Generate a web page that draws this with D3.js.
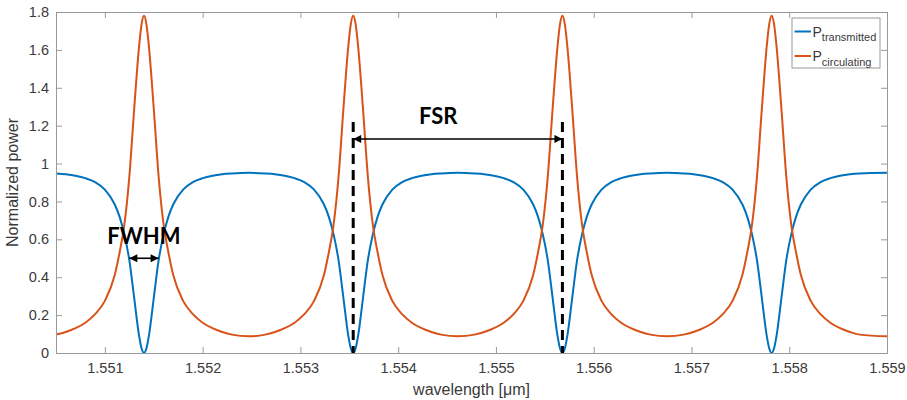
<!DOCTYPE html>
<html><head><meta charset="utf-8">
<script src="https://cdn.jsdelivr.net/npm/d3@7"></script>
<style>
html,body{margin:0;padding:0;background:#fff;}
svg{display:block;}
</style></head>
<body>
<svg id="chart" width="907" height="400"></svg>
<script>
// ---- data ----
const wavelength = [
  1.5505, 1.5506, 1.5507, 1.5508, 1.5509, 1.5510, 1.5511, 1.55115, 1.5512, 1.55125, 1.5513, 1.55135, 1.551375, 1.5514,
  1.551425, 1.55145, 1.5515, 1.55155, 1.5516, 1.55165, 1.5517, 1.5518, 1.5519, 1.5520, 1.5521, 1.5522, 1.5523, 1.55247,
  1.55264, 1.55274, 1.55284, 1.55294, 1.55304, 1.55314, 1.55324, 1.55329, 1.55334, 1.55339, 1.55344, 1.55349, 1.553515, 1.55354,
  1.553565, 1.55359, 1.55364, 1.55369, 1.55374, 1.55379, 1.55384, 1.55394, 1.55404, 1.55414, 1.55424, 1.55434, 1.55444, 1.55461,
  1.55478, 1.55488, 1.55498, 1.55508, 1.55518, 1.55528, 1.55538, 1.55543, 1.55548, 1.55553, 1.55558, 1.55563, 1.555655, 1.55568,
  1.555705, 1.55573, 1.55578, 1.55583, 1.55588, 1.55593, 1.55598, 1.55608, 1.55618, 1.55628, 1.55638, 1.55648, 1.55658, 1.55675,
  1.55692, 1.55702, 1.55712, 1.55722, 1.55732, 1.55742, 1.55752, 1.55757, 1.55762, 1.55767, 1.55772, 1.55777, 1.557795, 1.55782,
  1.557845, 1.55787, 1.55792, 1.55797, 1.55802, 1.55807, 1.55812, 1.55822, 1.55832, 1.55842, 1.55852, 1.55862, 1.55872, 1.5590
];
const transmitted = [
  0.948, 0.944, 0.936, 0.923, 0.902, 0.862, 0.785, 0.72, 0.625, 0.49, 0.29, 0.09, 0.025, 0,
  0.025, 0.09, 0.29, 0.49, 0.625, 0.72, 0.785, 0.862, 0.902, 0.923, 0.936, 0.944, 0.948, 0.951,
  0.948, 0.944, 0.936, 0.923, 0.902, 0.862, 0.785, 0.72, 0.625, 0.49, 0.29, 0.09, 0.025, 0,
  0.025, 0.09, 0.29, 0.49, 0.625, 0.72, 0.785, 0.862, 0.902, 0.923, 0.936, 0.944, 0.948, 0.951,
  0.948, 0.944, 0.936, 0.923, 0.902, 0.862, 0.785, 0.72, 0.625, 0.49, 0.29, 0.09, 0.025, 0,
  0.025, 0.09, 0.29, 0.49, 0.625, 0.72, 0.785, 0.862, 0.902, 0.923, 0.936, 0.944, 0.948, 0.951,
  0.948, 0.944, 0.936, 0.923, 0.902, 0.862, 0.785, 0.72, 0.625, 0.49, 0.29, 0.09, 0.025, 0,
  0.025, 0.09, 0.29, 0.49, 0.625, 0.72, 0.785, 0.862, 0.902, 0.923, 0.936, 0.944, 0.948, 0.951
];
const circulating = [
  0.097, 0.111, 0.131, 0.160, 0.205, 0.275, 0.41, 0.53, 0.68, 0.93, 1.29, 1.62, 1.735, 1.78,
  1.735, 1.62, 1.29, 0.93, 0.68, 0.53, 0.41, 0.275, 0.205, 0.160, 0.131, 0.111, 0.097, 0.088,
  0.097, 0.111, 0.131, 0.160, 0.205, 0.275, 0.41, 0.53, 0.68, 0.93, 1.29, 1.62, 1.735, 1.78,
  1.735, 1.62, 1.29, 0.93, 0.68, 0.53, 0.41, 0.275, 0.205, 0.160, 0.131, 0.111, 0.097, 0.088,
  0.097, 0.111, 0.131, 0.160, 0.205, 0.275, 0.41, 0.53, 0.68, 0.93, 1.29, 1.62, 1.735, 1.78,
  1.735, 1.62, 1.29, 0.93, 0.68, 0.53, 0.41, 0.275, 0.205, 0.160, 0.131, 0.111, 0.097, 0.088,
  0.097, 0.111, 0.131, 0.160, 0.205, 0.275, 0.41, 0.53, 0.68, 0.93, 1.29, 1.62, 1.735, 1.78,
  1.735, 1.62, 1.29, 0.93, 0.68, 0.53, 0.41, 0.275, 0.205, 0.160, 0.131, 0.111, 0.097, 0.088
];
const seriesNames = ["transmitted", "circulating"];
const xTicks = [1.551, 1.552, 1.553, 1.554, 1.555, 1.556, 1.557, 1.558, 1.559];
const yTicks = [0, 0.2, 0.4, 0.6, 0.8, 1, 1.2, 1.4, 1.6, 1.8];
const xDomain = [1.5505, 1.559];
const yDomain = [0, 1.8];
// annotations (data units)
const fsrMarks = [1.55354, 1.55568];   // dashed resonance lines
const fsrArrowY = 1.13;
const dashTop = 1.22;
const fsrLabel = {x: 1.55441, y: 1.21};
const fwhmRange = [1.55125, 1.55155];
const fwhmY = 0.5;
const fwhmLabel = {x: 1.551024, y: 0.578};

// ---- layout ----
const W = 907, H = 400;
const margin = {left: 56, right: 20, top: 12, bottom: 47};
const iw = W - margin.left - margin.right;
const ih = H - margin.top - margin.bottom;
const colors = ["#0072BD", "#D95319"];
const axisColor = "#9a9a9a";
const textColor = "#3a3a3a";

const svg = d3.select("#chart");
const g = svg.append("g").attr("transform", `translate(${margin.left},${margin.top})`);

const x = d3.scaleLinear().domain(xDomain).range([0, iw]);
const y = d3.scaleLinear().domain(yDomain).range([ih, 0]);

// defs: arrow heads
const defs = svg.append("defs");
defs.append("marker").attr("id", "ah").attr("viewBox", "0 0 10 10")
  .attr("refX", 10).attr("refY", 5).attr("markerWidth", 9).attr("markerHeight", 8)
  .attr("markerUnits", "userSpaceOnUse").attr("orient", "auto-start-reverse")
  .append("path").attr("d", "M0,0 L10,5 L0,10 Z").attr("fill", "#000");
defs.append("clipPath").attr("id", "clip").append("rect")
  .attr("x", 0).attr("y", -2).attr("width", iw).attr("height", ih + 4);

// curves
const lineGen = d3.line().curve(d3.curveMonotoneX)
  .x(d => x(d[0])).y(d => y(d[1]));
const seriesData = [transmitted, circulating];
seriesData.forEach((vals, i) => {
  g.append("path")
    .datum(wavelength.map((w, k) => [w, vals[k]]))
    .attr("d", lineGen)
    .attr("fill", "none")
    .attr("stroke", colors[i])
    .attr("stroke-width", 2)
    .attr("stroke-linejoin", "round")
    .attr("clip-path", "url(#clip)");
});

// axes
const tickLen = 6;
const xAxisB = d3.axisBottom(x).tickValues(xTicks).tickSize(-tickLen).tickPadding(10)
  .tickFormat(d3.format(".3f"));
const yAxisL = d3.axisLeft(y).tickValues(yTicks).tickSize(-tickLen).tickPadding(7)
  .tickFormat(d => d3.format("~g")(d));
const xAxisT = d3.axisTop(x).tickValues(xTicks).tickSize(-tickLen).tickFormat("");
const yAxisR = d3.axisRight(y).tickValues(yTicks).tickSize(-tickLen).tickFormat("");

function styleAxis(sel) {
  sel.selectAll(".domain").attr("stroke", axisColor).attr("stroke-width", 1);
  sel.selectAll(".tick line").attr("stroke", axisColor).attr("stroke-width", 1);
  sel.selectAll(".tick text").attr("fill", textColor)
    .style("font-family", "'Liberation Sans', Arial, sans-serif").style("font-size", "14.5px");
}
styleAxis(g.append("g").attr("transform", `translate(0,${ih})`).call(xAxisB));
styleAxis(g.append("g").call(yAxisL));
styleAxis(g.append("g").call(xAxisT));
styleAxis(g.append("g").attr("transform", `translate(${iw},0)`).call(yAxisR));

// axis labels
g.append("text").attr("x", iw / 2).attr("y", ih + 42).attr("text-anchor", "middle")
  .attr("fill", textColor).style("font-family", "'Liberation Sans', Arial, sans-serif")
  .style("font-size", "16px").text("wavelength [μm]");
g.append("text").attr("transform", `translate(${-38},${ih / 2}) rotate(-90)`)
  .attr("text-anchor", "middle").attr("fill", textColor)
  .style("font-family", "'Liberation Sans', Arial, sans-serif")
  .style("font-size", "16px").text("Normalized power");

// annotations: dashed lines
fsrMarks.forEach(m => {
  g.append("line").attr("x1", x(m)).attr("x2", x(m))
    .attr("y1", y(dashTop)).attr("y2", y(0))
    .attr("stroke", "#000").attr("stroke-width", 3).attr("stroke-dasharray", "10,6");
});
// FSR arrow
g.append("line").attr("x1", x(fsrMarks[0])).attr("x2", x(fsrMarks[1]))
  .attr("y1", y(fsrArrowY)).attr("y2", y(fsrArrowY))
  .attr("stroke", "#000").attr("stroke-width", 1.6)
  .attr("marker-start", "url(#ah)").attr("marker-end", "url(#ah)");
g.append("text").attr("x", x(fsrLabel.x)).attr("y", y(fsrLabel.y))
  .attr("text-anchor", "middle").attr("fill", "#000")
  .style("font-family", "Lato, 'Open Sans', sans-serif").style("font-weight", 700)
  .style("font-size", "22px").text("FSR");
// FWHM arrow
g.append("line").attr("x1", x(fwhmRange[0])).attr("x2", x(fwhmRange[1]))
  .attr("y1", y(fwhmY)).attr("y2", y(fwhmY))
  .attr("stroke", "#000").attr("stroke-width", 1.6)
  .attr("marker-start", "url(#ah)").attr("marker-end", "url(#ah)");
g.append("text").attr("x", x(fwhmLabel.x)).attr("y", y(fwhmLabel.y))
  .attr("text-anchor", "start").attr("fill", "#000")
  .style("font-family", "Lato, 'Open Sans', sans-serif").style("font-weight", 700)
  .style("font-size", "22px").text("FWHM");

// legend
const lg = svg.append("g").attr("transform", "translate(792,18)");
lg.append("rect").attr("x", 0).attr("y", 0).attr("width", 88).attr("height", 50)
  .attr("fill", "#fff").attr("stroke", axisColor).attr("stroke-width", 1);
seriesNames.forEach((name, i) => {
  const yy = 13.5 + i * 24.5;
  lg.append("line").attr("x1", 2.5).attr("x2", 19).attr("y1", yy).attr("y2", yy)
    .attr("stroke", colors[i]).attr("stroke-width", 2);
  const t = lg.append("text").attr("x", 20.5).attr("y", yy + 5)
    .attr("fill", textColor).style("font-family", "'Liberation Sans', Arial, sans-serif")
    .style("font-size", "14px");
  t.append("tspan").text("P");
  t.append("tspan").attr("dy", 4.5).style("font-size", "11px").text(name);
});
</script>
</body></html>
